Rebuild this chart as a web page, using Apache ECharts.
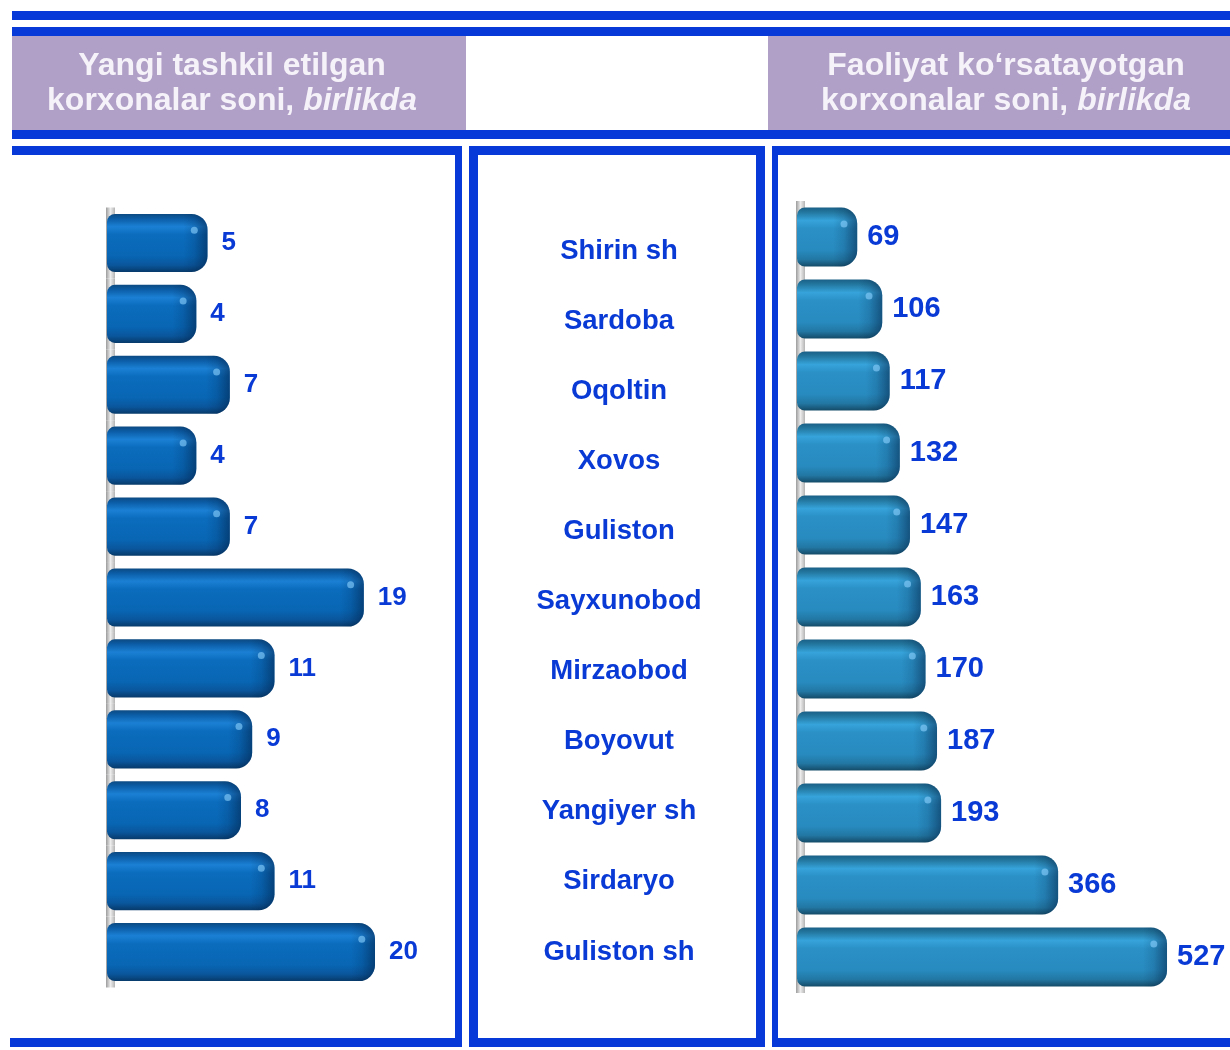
<!DOCTYPE html>
<html>
<head>
<meta charset="utf-8">
<title>Korxonalar soni</title>
<script src="https://cdn.jsdelivr.net/npm/echarts@6/dist/echarts.min.js"></script>
<style>
  html, body { margin: 0; padding: 0; background: #ffffff; }
  #chart { width: 1230px; height: 1050px; }
</style>
</head>
<body>
<div id="chart"></div>
<script>
// Regions (rows, top to bottom)
const regions = ['Shirin sh', 'Sardoba', 'Oqoltin', 'Xovos', 'Guliston', 'Sayxunobod',
                 'Mirzaobod', 'Boyovut', 'Yangiyer sh', 'Sirdaryo', 'Guliston sh'];
// Newly founded enterprises, units
const newEnterprises = [5, 4, 7, 4, 7, 19, 11, 9, 8, 11, 20];
// Operating enterprises, units
const activeEnterprises = [69, 106, 117, 132, 147, 163, 170, 187, 193, 366, 527];

// Panel headings
const leftHeading = ['Yangi tashkil etilgan', 'korxonalar soni, ', 'birlikda'];
const rightHeading = ['Faoliyat ko\u2018rsatayotgan', 'korxonalar soni, ', 'birlikda'];

const FONT = '"Liberation Sans", Arial, Helvetica, sans-serif';
const FRAME = '#0739d8';
const LILAC = '#b09fc6';
const LABEL = '#0a3ad6';

// Bar axes start below zero, so bars grow from the axis minimum
const LEFT_MIN = -4, LEFT_MAX = 26;
const RIGHT_MIN = -20, RIGHT_MAX = 600;

const leftPalette = [
  [0, '#0c4a82'], [0.08, '#0b5ca5'], [0.22, '#1b80d4'], [0.36, '#0b6cbd'],
  [0.72, '#0866b4'], [0.88, '#0a569c'], [1, '#073a6a']
];
const rightPalette = [
  [0, '#1a5f86'], [0.08, '#23779f'], [0.22, '#36a3da'], [0.36, '#2a90c6'],
  [0.72, '#288bc0'], [0.88, '#2277a3'], [1, '#154b68']
];

function vGrad(stops) {
  return new echarts.graphic.LinearGradient(0, 0, 0, 1,
    stops.map(s => ({ offset: s[0], color: s[1] })));
}

function makeRender(palette, axisMin, labelFont, gap) {
  return function (params, api) {
    const idx = api.value(1);
    const val = api.value(0);
    const base = api.coord([axisMin, idx]);
    const end = api.coord([val, idx]);
    const band = api.size([0, 1])[1];
    const h = band * 0.82;
    const x0 = base[0];
    const x1 = end[0];
    const yc = base[1];
    const y0 = yc - h / 2;
    const w = x1 - x0;
    const r = Math.min(16, w / 2);
    const capW = Math.min(24, w * 0.5);
    return {
      type: 'group',
      children: [
        // grey side wall visible in the gaps between bars
        {
          type: 'rect',
          shape: { x: x0 - 1, y: yc - band / 2, width: 9, height: band },
          style: {
            fill: new echarts.graphic.LinearGradient(0, 0, 1, 0, [
              { offset: 0, color: '#9c9c9c' }, { offset: 0.5, color: '#ececec' },
              { offset: 1, color: '#b4b4b4' }
            ])
          }
        },
        {
          type: 'rect',
          shape: { x: x0, y: y0, width: w, height: h, r: [8, r, r, 8] },
          style: { fill: vGrad(palette) }
        },
        // rounded end shading
        {
          type: 'rect',
          shape: { x: x1 - capW, y: y0, width: capW, height: h, r: [0, r, r, 0] },
          style: {
            fill: new echarts.graphic.LinearGradient(0, 0, 1, 0, [
              { offset: 0, color: 'rgba(0,25,60,0)' },
              { offset: 0.45, color: 'rgba(0,25,60,0.14)' },
              { offset: 1, color: 'rgba(0,25,60,0.5)' }
            ])
          }
        },
        // small specular spot at the end
        {
          type: 'circle',
          shape: { cx: x1 - capW * 0.55, cy: y0 + h * 0.28, r: 3.5 },
          style: { fill: 'rgba(140,210,255,0.6)' }
        },
        {
          type: 'text',
          style: {
            text: String(val),
            x: x1 + gap,
            y: yc,
            verticalAlign: 'middle',
            align: 'left',
            font: labelFont,
            fill: LABEL
          }
        }
      ]
    };
  };
}

function frameRect(x, y, w, h, fill) {
  return { type: 'rect', shape: { x: x, y: y, width: w, height: h }, style: { fill: fill || FRAME }, silent: true };
}

function heading(lines, cx) {
  return [
    {
      type: 'text',
      style: {
        text: lines[0], x: cx, y: 66, align: 'center', verticalAlign: 'middle',
        font: 'bold 32px ' + FONT, fill: '#f6f2fa'
      }
    },
    {
      type: 'text',
      style: {
        text: '{n|' + lines[1] + '}{i|' + lines[2] + '}', x: cx, y: 101,
        align: 'center', verticalAlign: 'middle',
        rich: {
          n: { font: 'bold 32px ' + FONT, fill: '#f6f2fa' },
          i: { font: 'italic bold 32px ' + FONT, fill: '#f6f2fa' }
        }
      }
    }
  ];
}

const graphics = [
  // double rule across the top
  frameRect(12, 11, 1218, 9),
  frameRect(12, 27, 1218, 9),
  // heading bands
  frameRect(12, 36, 454, 94, LILAC),
  frameRect(768, 36, 462, 94, LILAC),
  frameRect(12, 130, 1218, 9),
  // left panel
  frameRect(12, 146, 450, 9),
  frameRect(455, 146, 7, 901),
  frameRect(10, 1038, 452, 9),
  // middle panel
  frameRect(469, 146, 296, 9),
  frameRect(469, 146, 9, 901),
  frameRect(756, 146, 9, 901),
  frameRect(469, 1038, 296, 9),
  // right panel
  frameRect(772, 146, 458, 9),
  frameRect(772, 146, 6, 901),
  frameRect(772, 1038, 458, 9)
].concat(heading(leftHeading, 232), heading(rightHeading, 1006));

const chart = echarts.init(document.getElementById('chart'), null, { renderer: 'canvas' });

chart.setOption({
  backgroundColor: '#ffffff',
  animation: false,
  graphic: { elements: graphics },
  grid: [
    { left: 107, top: 207.5, width: 335, height: 780 },
    { left: 797, top: 201, width: 419.4, height: 792 },
    { left: 619, top: 216, width: 1, height: 771 }
  ],
  xAxis: [
    { gridIndex: 0, type: 'value', min: LEFT_MIN, max: LEFT_MAX, show: false },
    { gridIndex: 1, type: 'value', min: RIGHT_MIN, max: RIGHT_MAX, show: false },
    { gridIndex: 2, type: 'value', show: false }
  ],
  yAxis: [
    { gridIndex: 0, type: 'category', inverse: true, data: regions, show: false },
    { gridIndex: 1, type: 'category', inverse: true, data: regions, show: false },
    {
      gridIndex: 2, type: 'category', inverse: true, data: regions,
      axisLine: { show: false }, axisTick: { show: false }, splitLine: { show: false },
      axisLabel: {
        interval: 0, align: 'center', margin: 0,
        fontFamily: FONT, fontSize: 27.5, fontWeight: 'bold', color: LABEL
      }
    }
  ],
  series: [
    {
      type: 'custom',
      name: 'Yangi tashkil etilgan',
      xAxisIndex: 0, yAxisIndex: 0,
      clip: false,
      encode: { x: 0, y: 1 },
      data: newEnterprises.map((v, i) => [v, i]),
      renderItem: makeRender(leftPalette, LEFT_MIN, 'bold 26px ' + FONT, 14)
    },
    {
      type: 'custom',
      name: 'Faoliyat ko\u2018rsatayotgan',
      xAxisIndex: 1, yAxisIndex: 1,
      clip: false,
      encode: { x: 0, y: 1 },
      data: activeEnterprises.map((v, i) => [v, i]),
      renderItem: makeRender(rightPalette, RIGHT_MIN, 'bold 29px ' + FONT, 10)
    }
  ]
});
</script>
</body>
</html>
